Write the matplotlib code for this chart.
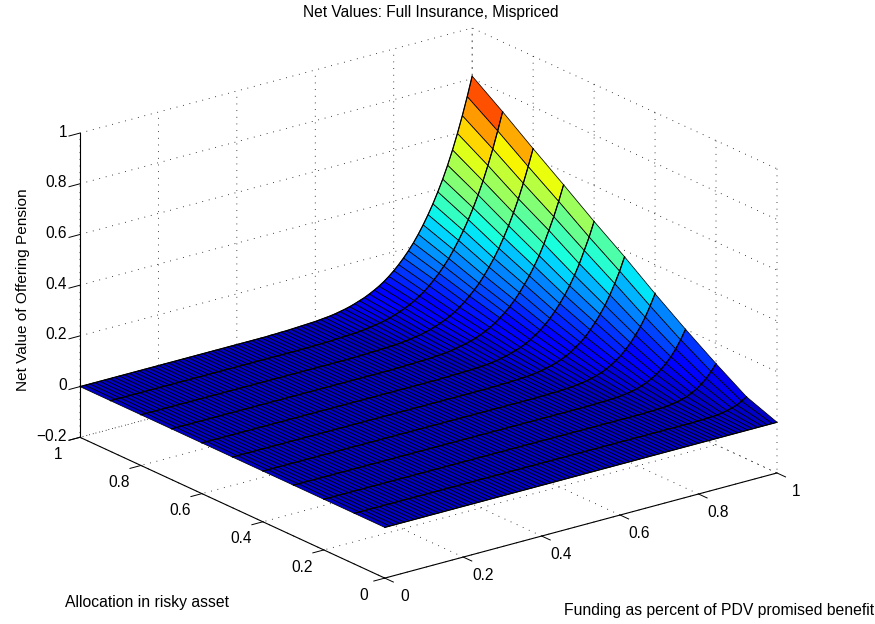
import numpy as np
import matplotlib
matplotlib.use("Agg")
import matplotlib.pyplot as plt

plt.rcParams['font.family'] = ['Liberation Sans', 'DejaVu Sans']

TITLE = "Net Values: Full Insurance, Mispriced"
XLABEL = "Funding as percent of PDV promised benefit"
YLABEL = "Allocation in risky asset"
ZLABEL = "Net Value of Offering Pension"

XY_TICKS = [0, 0.2, 0.4, 0.6, 0.8, 1]
XY_TICK_LABELS = ["0", "0.2", "0.4", "0.6", "0.8", "1"]
Z_TICKS = [-0.2, 0, 0.2, 0.4, 0.6, 0.8, 1]
Z_TICK_LABELS = ["\u22120.2", "0", "0.2", "0.4", "0.6", "0.8", "1"]

N_FUNDING = 81
funding = [i / 80 for i in range(N_FUNDING)]
allocation = [0.0, 0.1, 0.2, 0.3, 0.4, 0.5, 0.6, 0.7, 0.8, 0.9, 1.0]

# Net value, starting at funding = 1 and
# stepping back towards funding = 0; the remainder of each line reads as zero.
a00 = [0.0]
a01 = [.045, .033, .023, .016, .011, .007, .004, .003, .002, .001, .001]
a02 = [.120, .094, .072, .055, .041, .030, .021, .015, .010, .007, .004, .003, .002, .001, .001]
a03 = [.200, .164, .133, .107, .086, .068, .053, .041, .031, .023, .017, .012, .009, .006, .004,
       .003, .002, .002, .001, .001]
a04 = [.285, .242, .203, .170, .142, .117, .096, .077, .063, .050, .039, .030, .024, .018, .014,
       .010, .008, .005, .004, .003, .002, .002, .001, .001]
a05 = [.375, .324, .280, .240, .204, .174, .147, .123, .101, .084, .070, .056, .045, .037, .029,
       .023, .018, .014, .011, .008, .006, .005, .004, .003, .002, .002, .001, .001]
a06 = [.459, .403, .355, .308, .267, .231, .199, .171, .146, .123, .104, .087, .073, .060, .049,
       .040, .033, .027, .021, .017, .013, .010, .008, .006, .005, .004, .003, .003, .002, .002,
       .001, .001]
a07 = [.548, .488, .433, .384, .336, .294, .258, .225, .196, .169, .145, .124, .106, .090, .075,
       .063, .053, .044, .036, .030, .024, .020, .016, .013, .010, .008, .007, .005, .004, .004,
       .003, .002, .002, .001, .001]
a08 = [.635, .570, .509, .453, .403, .357, .316, .278, .244, .214, .186, .161, .140, .121, .103,
       .087, .074, .062, .053, .044, .037, .030, .025, .020, .017, .013, .011, .009, .007, .006,
       .005, .004, .003, .003, .002, .001, .001]
a09 = [.725, .655, .589, .529, .473, .423, .377, .336, .298, .264, .232, .203, .178, .155, .135,
       .116, .099, .086, .073, .062, .053, .045, .038, .031, .026, .022, .018, .015, .012, .010,
       .008, .007, .006, .005, .004, .003, .002, .002, .001, .001]
a10 = [.810, .735, .665, .600, .540, .485, .435, .390, .348, .310, .275, .243, .214, .188, .165,
       .144, .125, .108, .093, .080, .069, .059, .050, .043, .036, .030, .025, .021, .017, .014,
       .012, .010, .008, .007, .006, .005, .004, .003, .002, .002, .001, .001]
rows = [a00, a01, a02, a03, a04, a05, a06, a07, a08, a09, a10]

Z = np.array([(r + [0.0] * (N_FUNDING - len(r)))[::-1] for r in rows])
X, Y = np.meshgrid(funding, allocation)

W, H = 875, 624
S = 620.0
fig = plt.figure(figsize=(W / 100, H / 100), dpi=100)
ax = fig.add_axes([110.1 / W, (H - 1.4 - S) / H, S / W, S / H], projection='3d', proj_type='ortho')
ax.set_box_aspect((493, 503, 325), zoom=1.2146)
ax.view_init(elev=20.6, azim=-127.3)
ax.set_xlim(0, 1, view_margin=0)
ax.set_ylim(0, 1, view_margin=0)
ax.set_zlim(-0.2, 1, view_margin=0)
ax.patch.set_visible(False)
ax.computed_zorder = False

cmap = matplotlib.colormaps['jet'].resampled(64)
norm = matplotlib.colors.Normalize(vmin=-0.06, vmax=float(Z.max()))
colors = cmap(norm(Z))
surf = ax.plot_surface(X, Y, Z, facecolors=colors, rstride=1, cstride=1, shade=False,
                       edgecolor='k', linewidth=0.55, antialiased=True, zorder=3)
surf.set_clip_on(False)
for i in range(len(allocation)):
    ax.plot(X[i], Y[i], Z[i], color='k', lw=0.85, zorder=4, clip_on=False)

ax.set_xticks(XY_TICKS, XY_TICK_LABELS, fontsize=11.2)
ax.set_yticks(XY_TICKS, XY_TICK_LABELS, fontsize=11.2)
ax.set_zticks(Z_TICKS, Z_TICK_LABELS, fontsize=11.2)

DATA_PER_PX = 0.185 / S  # the 3D axes' own 2D view spans 0.185 units


def shift_label(label, dx_px, dy_px):
    """Nudge a tick label each time mplot3d re-places it."""
    place = label.set_position
    label.set_position = lambda xy: place((xy[0] + dx_px * DATA_PER_PX, xy[1] + dy_px * DATA_PER_PX))


label_shift = {ax.xaxis: (16, -6), ax.yaxis: (-17, -5), ax.zaxis: (-5, 8)}
for axis, (dx, dy) in label_shift.items():
    axis.set_pane_color((1, 1, 1, 0))
    axis.pane.set_edgecolor((1, 1, 1, 0))
    axis._axinfo['grid'].update(color='k', linewidth=0.6, linestyle=(0, (1, 7)))
    axis._axinfo['axisline']['color'] = 'k'
    axis._axinfo['tick'].update(inward_factor=0.35, outward_factor=0.0, linewidth={True: 0.7, False: 0.7})
    axis.line.set_linewidth(0.8)
    axis.set_tick_params(pad=-5.4, colors='k')
    for tick in axis.get_major_ticks():
        shift_label(tick.label1, dx, dy)
for t in ax.zaxis.get_ticklabels():
    t.set_horizontalalignment('right')

ax.set_title(TITLE, fontsize=11.2, va='center', x=0.5168, y=1.0535)
ax.text2D(65 / W, 1 - 603 / H, YLABEL, transform=fig.transFigure, fontsize=11.3, va='center', ha='left')
ax.text2D(564 / W, 1 - 611 / H, XLABEL, transform=fig.transFigure, fontsize=11.3, va='center', ha='left')
ax.text2D(23 / W, 1 - 290 / H, ZLABEL, transform=fig.transFigure, fontsize=11.1, va='center', ha='center',
          rotation=90)

fig.savefig("out.png", dpi=100)
